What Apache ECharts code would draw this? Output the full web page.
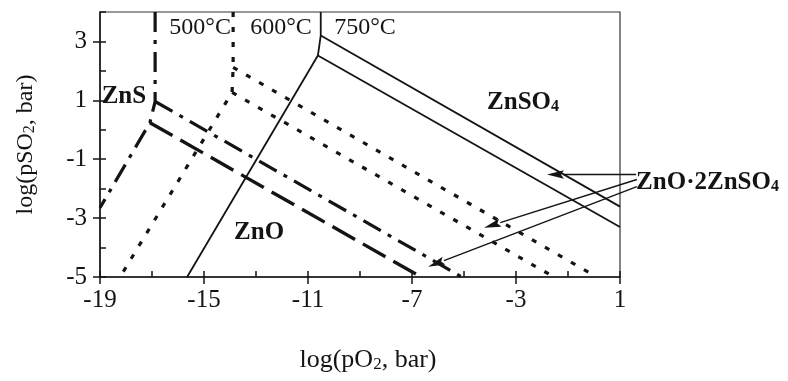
<!DOCTYPE html>
<html>
<head>
<meta charset="utf-8">
<script src="https://cdn.jsdelivr.net/npm/echarts@6/dist/echarts.min.js"></script>
<style>
  html, body { margin: 0; padding: 0; background: #ffffff; }
  #chart { width: 788px; height: 381px; }
</style>
</head>
<body>
<div id="chart"></div>
<script>
// Tick positions
const xMajorTicks = [-19, -15, -11, -7, -3, 1];
const xMinorTicks = [-19, -17, -15, -13, -11, -9, -7, -5, -3, -1, 1];
const yMajorTicks = [-5, -3, -1, 1, 3];
const yMinorTicks = [-5, -4, -3, -2, -1, 0, 1, 2, 3, 4];

// Phase boundaries as [log pO2, log pSO2] points
// 750 °C
const b750ZnS = [[-10.51, 4], [-10.51, 3.20], [-10.62, 2.52], [-15.65, -5]];
const b750Sulfate = [[-10.51, 3.20], [1, -2.61]];
const b750Basic = [[-10.62, 2.52], [1, -3.30]];
// 600 °C
const b600ZnS = [[-13.88, 4], [-13.88, 2.12], [-13.92, 1.27], [-18.23, -5]];
const b600Sulfate = [[-13.88, 2.12], [0.10, -5]];
const b600Basic = [[-13.92, 1.27], [-1.54, -5]];
// 500 °C
const b500ZnS = [[-16.88, 4], [-16.88, 0.96], [-17.08, 0.24], [-19, -2.65]];
const b500Sulfate = [[-16.88, 0.96], [-5.08, -5]];
const b500Basic = [[-17.08, 0.24], [-6.65, -5]];

// Pointer arrows: [fromX, fromY, toX, toY]
const arrows = [
  [1.62, -1.52, -1.81, -1.52],
  [1.65, -1.69, -4.23, -3.33],
  [1.65, -1.93, -6.38, -4.65]
];

// Region and temperature labels: anchor [x, y] and text
const labelAnchors = [
  [-15.15, 3.48], [-12.04, 3.48], [-8.81, 3.48],
  [-18.08, 1.13], [-2.73, 0.93], [-12.88, -3.5], [1.62, -1.80]
];
const labelTexts = [
  '500°C', '600°C', '750°C',
  'ZnS', 'ZnSO{s|4}', 'ZnO', 'ZnO·2ZnSO{s|4}'
];
const labelKinds = ['temp', 'temp', 'temp', 'phase', 'phase', 'phase', 'note'];

const FONT = '"Liberation Serif", "Times New Roman", serif';
const INK = '#141414';

function boundary(data, width, type) {
  return {
    type: 'line',
    data: data,
    xAxisIndex: 0,
    yAxisIndex: 0,
    showSymbol: false,
    symbol: 'none',
    silent: true,
    lineStyle: { color: INK, width: width, type: type, cap: 'butt' }
  };
}

const solid = 'solid';
const dotted = [5, 10];
const dashDot = [20, 8, 4, 8];
const longDash = [26, 9];

const chart = echarts.init(document.getElementById('chart'), null, { renderer: 'canvas' });

const axisBase = {
  type: 'value',
  splitLine: { show: false },
  axisLine: { onZero: false }
};

chart.setOption({
  animation: false,
  backgroundColor: '#ffffff',
  grid: {
    left: 100, right: 168, top: 12, bottom: 104,
    show: true, borderColor: '#333', borderWidth: 1.2
  },
  xAxis: [
    Object.assign({}, axisBase, {
      min: -19, max: 1, position: 'bottom',
      axisLine: { onZero: false, lineStyle: { color: INK, width: 1.5 } },
      axisTick: { show: true, inside: false, length: 7, customValues: xMajorTicks, lineStyle: { color: INK, width: 1.5 } },
      axisLabel: { customValues: xMajorTicks, fontFamily: FONT, fontSize: 25, color: INK, margin: 11 },
      name: 'log(pO{s|2}, bar)',
      nameLocation: 'middle',
      nameGap: 70,
      nameTextStyle: {
        fontFamily: FONT, fontSize: 26, color: INK, padding: [0, 0, 0, 16],
        rich: { s: { fontFamily: FONT, fontSize: 17, color: INK, verticalAlign: 'bottom' } }
      }
    }),
    Object.assign({}, axisBase, {
      min: -19, max: 1, position: 'bottom',
      axisLine: { show: false, onZero: false },
      axisTick: { show: true, inside: true, length: 6, customValues: xMinorTicks, lineStyle: { color: INK, width: 1.5 } },
      axisLabel: { show: false }
    })
  ],
  yAxis: [
    Object.assign({}, axisBase, {
      min: -5, max: 4, position: 'left',
      axisLine: { onZero: false, lineStyle: { color: INK, width: 1.5 } },
      axisTick: { show: true, inside: false, length: 7, customValues: yMajorTicks, lineStyle: { color: INK, width: 1.5 } },
      axisLabel: { customValues: yMajorTicks, fontFamily: FONT, fontSize: 25, color: INK, margin: 13 },
      name: 'log(pSO{s|2}, bar)',
      nameLocation: 'middle',
      nameGap: 62,
      nameTextStyle: {
        fontFamily: FONT, fontSize: 24, color: INK,
        rich: { s: { fontFamily: FONT, fontSize: 16, color: INK, verticalAlign: 'bottom' } }
      }
    }),
    Object.assign({}, axisBase, {
      min: -5, max: 4, position: 'left',
      axisLine: { show: false, onZero: false },
      axisTick: { show: true, inside: true, length: 6, customValues: yMinorTicks, lineStyle: { color: INK, width: 1.5 } },
      axisLabel: { show: false }
    })
  ],
  series: [
    boundary(b750ZnS, 1.8, solid),
    boundary(b750Sulfate, 1.8, solid),
    boundary(b750Basic, 1.8, solid),
    boundary(b600ZnS, 3.2, dotted),
    boundary(b600Sulfate, 3.2, dotted),
    boundary(b600Basic, 3.2, dotted),
    boundary(b500ZnS, 3.2, dashDot),
    boundary(b500Sulfate, 3.2, dashDot),
    boundary(b500Basic, 3.4, longDash),
    {
      // arrows pointing from the note to the boundaries
      type: 'custom',
      xAxisIndex: 0,
      yAxisIndex: 0,
      clip: false,
      silent: true,
      data: arrows,
      encode: { x: [0, 2], y: [1, 3] },
      renderItem: function (params, api) {
        const p0 = api.coord([api.value(0), api.value(1)]);
        const p1 = api.coord([api.value(2), api.value(3)]);
        const dx = p1[0] - p0[0], dy = p1[1] - p0[1];
        const len = Math.sqrt(dx * dx + dy * dy);
        const ux = dx / len, uy = dy / len;
        const headLen = 17, headHalf = 4.2;
        const bx = p1[0] - ux * headLen, by = p1[1] - uy * headLen;
        return {
          type: 'group',
          children: [
            {
              type: 'line',
              shape: { x1: p0[0], y1: p0[1], x2: bx, y2: by },
              style: { stroke: INK, lineWidth: 1.4 }
            },
            {
              type: 'polygon',
              shape: { points: [
                [p1[0], p1[1]],
                [bx - uy * headHalf, by + ux * headHalf],
                [bx + ux * 3, by + uy * 3],
                [bx + uy * headHalf, by - ux * headHalf]
              ] },
              style: { fill: INK }
            }
          ]
        };
      }
    },
    {
      // temperature and phase-field labels
      type: 'custom',
      xAxisIndex: 0,
      yAxisIndex: 0,
      clip: false,
      silent: true,
      data: labelAnchors,
      renderItem: function (params, api) {
        const p = api.coord([api.value(0), api.value(1)]);
        const kind = labelKinds[params.dataIndex];
        const bold = kind !== 'temp';
        const size = kind === 'temp' ? 24 : 25;
        return {
          type: 'text',
          x: p[0],
          y: p[1],
          style: {
            text: labelTexts[params.dataIndex],
            fontFamily: FONT,
            fontSize: size,
            fontWeight: bold ? 'bold' : 'normal',
            fill: INK,
            align: kind === 'note' ? 'left' : 'center',
            verticalAlign: 'middle',
            rich: {
              s: { fontFamily: FONT, fontSize: 16, fontWeight: 'bold', fill: INK, verticalAlign: 'bottom' }
            }
          }
        };
      }
    }
  ]
});
</script>
</body>
</html>
